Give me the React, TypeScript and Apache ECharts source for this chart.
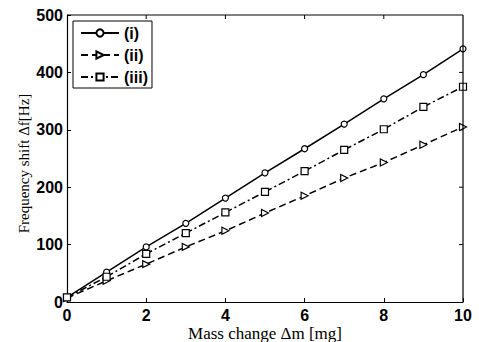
import React, { useEffect, useRef } from "react";
import * as echarts from "echarts";

const massChange = [0, 1, 2, 3, 4, 5, 6, 7, 8, 9, 10];
const seriesI = [8, 52, 96, 137, 181, 225, 267, 310, 354, 396, 441];
const seriesII = [7, 37, 66, 96, 124, 155, 185, 216, 243, 274, 305];
const seriesIII = [8, 44, 84, 120, 156, 192, 228, 265, 301, 340, 375];
const seriesNames = ["(i)", "(ii)", "(iii)"];

const G_LEFT = 67;
const G_RIGHT = 463;
const G_TOP = 15;
const G_BOTTOM = 302;

export default function App() {
  const ref = useRef<HTMLDivElement>(null);
  useEffect(() => {
    if (!ref.current) return;
    const chart = echarts.init(ref.current, null, { renderer: "svg" });
    const mk = (arr: number[]) => massChange.map((x, i) => [x, arr[i]]);
    const tickFont = { fontFamily: "Liberation Sans", fontSize: 16, fontWeight: "bold", color: "#000" };
    const base = {
      type: "line",
      color: "#000",
      itemStyle: { color: "#fff", borderColor: "#000", borderWidth: 1.2 },
      z: 3,
    };
    const xStep = (G_RIGHT - G_LEFT) / 10;
    const yStep = (G_BOTTOM - G_TOP) / 500;
    chart.setOption({
      animation: false,
      backgroundColor: "#fff",
      grid: {
        left: G_LEFT,
        right: 479 - G_RIGHT,
        top: G_TOP,
        bottom: 342 - G_BOTTOM,
        show: false,
        containLabel: false,
        outerBoundsMode: "none",
      },
      legend: {
        left: 73,
        top: 21,
        orient: "vertical",
        itemWidth: 38,
        itemHeight: 9,
        itemGap: 6,
        padding: [4, 4, 3, 7],
        borderColor: "#000",
        borderWidth: 1,
        backgroundColor: "#fff",
        textStyle: { fontFamily: "Liberation Sans", fontSize: 16, fontWeight: "bold", color: "#000" },
        data: seriesNames,
      },
      xAxis: {
        type: "value",
        min: 0,
        max: 10,
        interval: 2,
        name: "Mass change Δm [mg]",
        nameLocation: "middle",
        nameGap: 23,
        nameMoveOverlap: false,
        nameTextStyle: { fontFamily: "Liberation Serif", fontSize: 17, color: "#000" },
        axisLine: { show: true, lineStyle: { color: "#000", width: 1.2 } },
        axisTick: { show: true, inside: true, length: 4, lineStyle: { color: "#000" } },
        axisLabel: { ...tickFont, margin: 5 },
        splitLine: { show: false },
      },
      yAxis: {
        type: "value",
        min: 0,
        max: 500,
        interval: 100,
        name: "Frequency shift Δf[Hz]",
        nameLocation: "middle",
        nameGap: 36,
        nameMoveOverlap: false,
        nameTextStyle: { fontFamily: "Liberation Serif", fontSize: 15, color: "#000", padding: [0, 10, 0, 0] },
        axisLine: { show: true, lineStyle: { color: "#000", width: 1.2 } },
        axisTick: { show: true, inside: true, length: 4, lineStyle: { color: "#000" } },
        axisLabel: { ...tickFont, margin: 4 },
        splitLine: { show: false },
      },
      series: [
        {
          ...base,
          name: seriesNames[0],
          data: mk(seriesI),
          symbol: "circle",
          symbolSize: 6,
          lineStyle: { color: "#000", width: 1.5, type: "solid" },
        },
        {
          ...base,
          name: seriesNames[1],
          data: mk(seriesII),
          symbol: "triangle",
          symbolRotate: -90,
          symbolSize: 7,
          lineStyle: { color: "#000", width: 1.5, type: [7, 4] },
        },
        {
          ...base,
          name: seriesNames[2],
          data: mk(seriesIII),
          symbol: "rect",
          symbolSize: 7,
          lineStyle: { color: "#000", width: 1.5, type: [7, 3, 2, 3] },
        },
      ],
      graphic: [
        {
          type: "line",
          shape: { x1: G_LEFT, y1: G_TOP, x2: G_RIGHT, y2: G_TOP },
          style: { stroke: "#000", lineWidth: 1.2 },
          z: 10,
        },
        {
          type: "line",
          shape: { x1: G_RIGHT, y1: G_TOP, x2: G_RIGHT, y2: G_BOTTOM },
          style: { stroke: "#000", lineWidth: 1.2 },
          z: 10,
        },
        ...[2, 4, 6, 8].map((v) => ({
          type: "line",
          shape: { x1: G_LEFT + v * xStep, y1: G_TOP, x2: G_LEFT + v * xStep, y2: G_TOP + 4 },
          style: { stroke: "#000", lineWidth: 1 },
        })),
        ...[100, 200, 300, 400].map((v) => ({
          type: "line",
          shape: { x1: G_RIGHT, y1: G_BOTTOM - v * yStep, x2: G_RIGHT - 4, y2: G_BOTTOM - v * yStep },
          style: { stroke: "#000", lineWidth: 1 },
        })),
      ],
    });
    return () => chart.dispose();
  }, []);
  return <div ref={ref} style={{ width: 479, height: 342, position: "absolute", left: 0, top: 0 }} />;
}
